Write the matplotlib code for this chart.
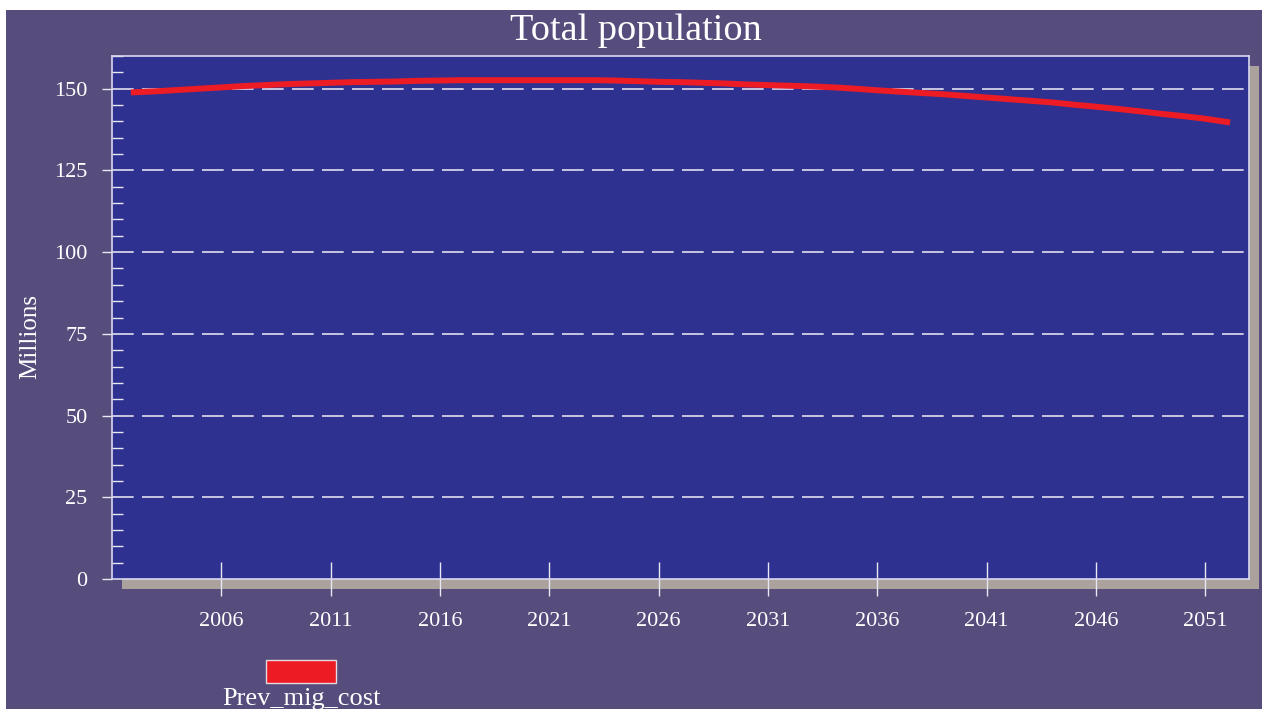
import matplotlib
matplotlib.use("Agg")
import matplotlib.pyplot as plt
from matplotlib.patches import Rectangle
from matplotlib.ticker import MultipleLocator

# data
years = list(range(2002, 2053))
population = [148.9, 149.2, 149.6, 150.0, 150.4, 150.8, 151.1, 151.4, 151.6, 151.8,
              152.0, 152.1, 152.2, 152.4, 152.5, 152.6, 152.6, 152.6, 152.6, 152.6,
              152.6, 152.6, 152.5, 152.3, 152.1, 152.0, 151.8, 151.6, 151.3, 151.1,
              150.9, 150.7, 150.4, 150.0, 149.5, 149.1, 148.7, 148.3, 147.8, 147.3,
              146.8, 146.3, 145.8, 145.1, 144.5, 143.8, 143.1, 142.3, 141.6, 140.8,
              139.8]
x_ticks = [2006, 2011, 2016, 2021, 2026, 2031, 2036, 2041, 2046, 2051]
y_ticks = [0, 25, 50, 75, 100, 125, 150]
series_name = "Prev_mig_cost"

bg = "#564d7c"
plot_bg = "#2e3190"
red = "#ed1c24"
shadow = "#aba19d"

plt.rcParams['font.family'] = ['Liberation Serif', 'DejaVu Serif']

W, H = 1262, 709
fig = plt.figure(figsize=(W / 100, H / 100), dpi=100, facecolor="white")

# purple background (white strip on top and left)
fig.patches.append(Rectangle((6 / W, 0), 1, (H - 10) / H, transform=fig.transFigure,
                             facecolor=bg, edgecolor="none", zorder=0))

ax_l, ax_r, ax_t, ax_b = 112, 1249, 56, 579
# drop shadow behind plot area
fig.patches.append(Rectangle(((ax_l + 10) / W, (H - ax_b - 10) / H),
                             (ax_r - ax_l) / W, (ax_b - ax_t) / H,
                             transform=fig.transFigure, facecolor=shadow,
                             edgecolor="none", zorder=0.5))

ax = fig.add_axes([ax_l / W, (H - ax_b) / H, (ax_r - ax_l) / W, (ax_b - ax_t) / H])
ax.set_zorder(2)
ax.set_facecolor(plot_bg)

ax.plot(years, population, color=red, linewidth=4.3, solid_capstyle="projecting", zorder=3)

ax.set_xlim(2001, 2053)
ax.set_ylim(0, 160)

for y in y_ticks[1:]:
    ax.axhline(y, color="#e0e0f0", linewidth=1.2, linestyle=(0, (13, 5)), zorder=2)

ax.set_xticks(x_ticks)
ax.set_yticks(y_ticks)
ax.yaxis.set_minor_locator(MultipleLocator(5))
ax.tick_params(axis="x", direction="inout", length=24, width=1, color="#e8e8f0",
               labelcolor="white", labelsize=16, pad=12)
ax.tick_params(axis="y", which="major", direction="out", length=7.5, width=1,
               color="#e8e8f0", labelcolor="white", labelsize=16, pad=10)
ax.tick_params(axis="y", which="minor", direction="in", length=8, width=1, color="#e8e8f0")

for side in ["top", "right", "bottom", "left"]:
    ax.spines[side].set_color("#d8d8ee")
    ax.spines[side].set_linewidth(1.2)

fig.text(30 / W, 1 - 337 / H, "Millions", color="white", fontsize=18, rotation=90,
         ha="center", va="center")
fig.text(636 / W, 1 - 31 / H, "Total population", color="white", fontsize=27.5,
         ha="center", va="center")

# legend swatch and label
fig.patches.append(Rectangle((266 / W, 1 - 683 / H), 70 / W, 23 / H, transform=fig.transFigure,
                             facecolor=red, edgecolor="#e8d8e0", linewidth=1, zorder=2))
fig.text(301 / W, 1 - 699 / H, series_name, color="white", fontsize=19,
         ha="center", va="center")

fig.savefig("out.png", dpi=100, facecolor=fig.get_facecolor())
